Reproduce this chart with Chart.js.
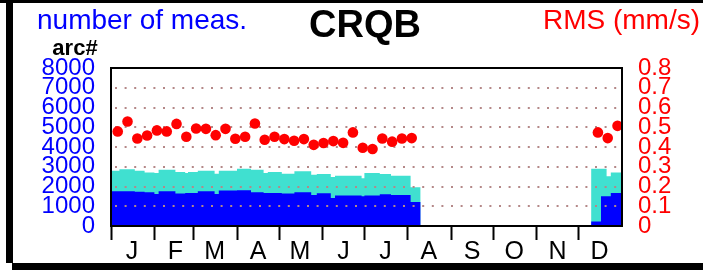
<!DOCTYPE html>
<html>
<head>
<meta charset="utf-8">
<script src="https://cdn.jsdelivr.net/npm/chart.js@4"></script>
<style>
  html, body { margin: 0; padding: 0; background: #fff; }
  canvas { display: block; }
</style>
</head>
<body>
<canvas id="chart" width="703" height="273"></canvas>
<script>
'use strict';

// ─── Data ────────────────────────────────────────────────────────────────────

const monthLabels = ['J', 'F', 'M', 'A', 'M', 'J', 'J', 'A', 'S', 'O', 'N', 'D'];
const monthStarts = [0, 31, 59, 90, 120, 151, 181, 212, 243, 273, 304, 334];

// step breakpoints (day of year) for the stacked count areas
const stepDays = [0, 6, 17, 24, 31, 34, 46, 53, 55, 62, 74, 77, 90, 100, 109, 112,
  122, 131, 143, 147, 157, 160, 179, 181, 192, 200, 214, 221, 343, 350, 354, 357, 365];
const totalMeas = [2800, 2870, 2800, 2715, 2685, 2850, 2735, 2685, 2735, 2800, 2650, 2800,
  2900, 2850, 2685, 2735, 2650, 2770, 2600, 2635, 2480, 2550, 2415, 2685, 2635, 2550,
  1960, 0, 2900, 2900, 2515, 2715, 2715];
const arcMeas = [1757, 1757, 1740, 1706, 1625, 1757, 1640, 1676, 1676, 1757, 1625, 1792,
  1808, 1706, 1676, 1676, 1640, 1706, 1575, 1655, 1420, 1540, 1505, 1540, 1605, 1570,
  1220, 0, 230, 1505, 1505, 1676, 1676];

// weekly RMS (mm/s)
const rmsWeek = [0, 1, 2, 3, 4, 5, 6, 7, 8, 9, 10, 11, 12, 13, 14, 15, 16, 17, 18, 19,
  20, 21, 22, 23, 24, 25, 26, 27, 28, 29, 30, 49, 50, 51];
const rmsValue = [0.479, 0.529, 0.443, 0.458, 0.484, 0.479, 0.517, 0.452, 0.494, 0.492,
  0.460, 0.492, 0.442, 0.452, 0.519, 0.437, 0.452, 0.440, 0.432, 0.440, 0.411, 0.420,
  0.430, 0.421, 0.474, 0.396, 0.390, 0.443, 0.427, 0.443, 0.445, 0.474, 0.445, 0.507];

const FONT = "'Liberation Sans', Arial, sans-serif";
const BLUE = '#0000ff';
const CYAN = '#40e0d0';
const RED = '#ff0000';
const GRID = '#b48888';

// ─── Plugins ─────────────────────────────────────────────────────────────────

// dotted horizontal grid, drawn above the areas but below the RMS dots
const dottedGrid = {
  id: 'dottedGrid',
  beforeDatasetDraw(chart, args) {
    if (args.index !== 2) return;
    const { ctx, chartArea } = chart;
    const y = chart.scales.y;
    ctx.save();
    ctx.strokeStyle = GRID;
    ctx.lineWidth = 2;
    ctx.setLineDash([2, 7.6]);
    y.ticks.forEach(t => {
      if (t.value <= y.min || t.value >= y.max) return;
      const py = Math.round(y.getPixelForValue(t.value));
      ctx.beginPath();
      ctx.moveTo(chartArea.left + 4, py);
      ctx.lineTo(chartArea.right, py);
      ctx.stroke();
    });
    ctx.restore();
  },
};

// plot border, outer frame and header texts
const frame = {
  id: 'frame',
  afterDatasetsDraw(chart) {
    const { ctx, chartArea: a } = chart;
    ctx.save();
    ctx.strokeStyle = '#000';
    ctx.lineWidth = 2;
    ctx.strokeRect(a.left, a.top, a.right - a.left, a.bottom - a.top);
    ctx.restore();
  },
  afterDraw(chart) {
    const { ctx } = chart;
    ctx.save();
    ctx.fillStyle = '#000';
    ctx.fillRect(0, 0, 703, 3);
    ctx.fillRect(6, 0, 7, 263);
    ctx.fillRect(12, 263, 691, 7);

    ctx.textBaseline = 'alphabetic';
    ctx.font = `28px ${FONT}`;
    ctx.fillStyle = BLUE;
    ctx.textAlign = 'left';
    ctx.fillText('number of meas.', 37, 29);
    ctx.fillStyle = RED;
    ctx.textAlign = 'right';
    ctx.fillText('RMS (mm/s)', 700, 29);
    ctx.fillStyle = '#000';
    ctx.textAlign = 'center';
    ctx.font = `bold 38px ${FONT}`;
    ctx.fillText('CRQB', 365, 37);
    ctx.font = `bold 22px ${FONT}`;
    ctx.fillText('arc#', 75, 55);
    ctx.restore();
  },
};

// ─── Chart ───────────────────────────────────────────────────────────────────

const stepPoints = vals => stepDays.map((d, i) => ({ x: d, y: vals[i] }));

new Chart(document.getElementById('chart').getContext('2d'), {
  type: 'line',
  data: {
    datasets: [
      {
        label: 'total',
        data: stepPoints(totalMeas),
        yAxisID: 'y',
        stepped: true,
        fill: 'origin',
        backgroundColor: CYAN,
        borderColor: 'transparent',
        borderWidth: 0,
        pointRadius: 0,
        order: 2,
      },
      {
        label: 'arc',
        data: stepPoints(arcMeas),
        yAxisID: 'y',
        stepped: true,
        fill: 'origin',
        backgroundColor: BLUE,
        borderColor: 'transparent',
        borderWidth: 0,
        pointRadius: 0,
        order: 1,
      },
      {
        label: 'RMS',
        data: rmsWeek.map((w, i) => ({ x: w * 7 + 4.8, y: rmsValue[i] })),
        yAxisID: 'y1',
        showLine: false,
        pointRadius: 5.3,
        pointBackgroundColor: RED,
        pointBorderColor: RED,
        pointBorderWidth: 0,
        order: 0,
      },
    ],
  },
  options: {
    responsive: false,
    animation: false,
    layout: { padding: { top: 68, left: 0, right: 0, bottom: 0 } },
    plugins: { legend: { display: false }, tooltip: { enabled: false }, title: { display: false } },
    scales: {
      x: {
        type: 'linear',
        min: 0,
        max: 365,
        afterFit: s => { s.height = 47; },
        afterBuildTicks: s => { s.ticks = monthStarts.map(v => ({ value: v })); },
        border: { display: false },
        grid: { drawOnChartArea: false, drawTicks: true, tickLength: 14, tickColor: '#000', tickWidth: 2 },
        ticks: {
          autoSkip: false,
          maxRotation: 0,
          padding: 0,
          labelOffset: 21,
          color: '#000',
          font: { family: FONT, size: 25, lineHeight: 1 },
          callback: (v, i) => monthLabels[i],
        },
      },
      y: {
        position: 'left',
        min: 0,
        max: 8000,
        afterFit: s => { s.width = 111; },
        border: { display: false },
        grid: { display: false, drawTicks: false },
        ticks: {
          autoSkip: false,
          stepSize: 1000,
          padding: 16,
          color: BLUE,
          font: { family: FONT, size: 24, lineHeight: 1 },
          callback: v => String(v),
        },
      },
      y1: {
        position: 'right',
        min: 0,
        max: 0.8,
        afterFit: s => { s.width = 81; },
        border: { display: false },
        grid: { display: false, drawTicks: false },
        ticks: {
          autoSkip: false,
          stepSize: 0.1,
          padding: 16,
          color: RED,
          font: { family: FONT, size: 24, lineHeight: 1 },
          callback: v => String(Math.round(v * 10) / 10),
        },
      },
    },
  },
  plugins: [dottedGrid, frame],
});
</script>
</body>
</html>
